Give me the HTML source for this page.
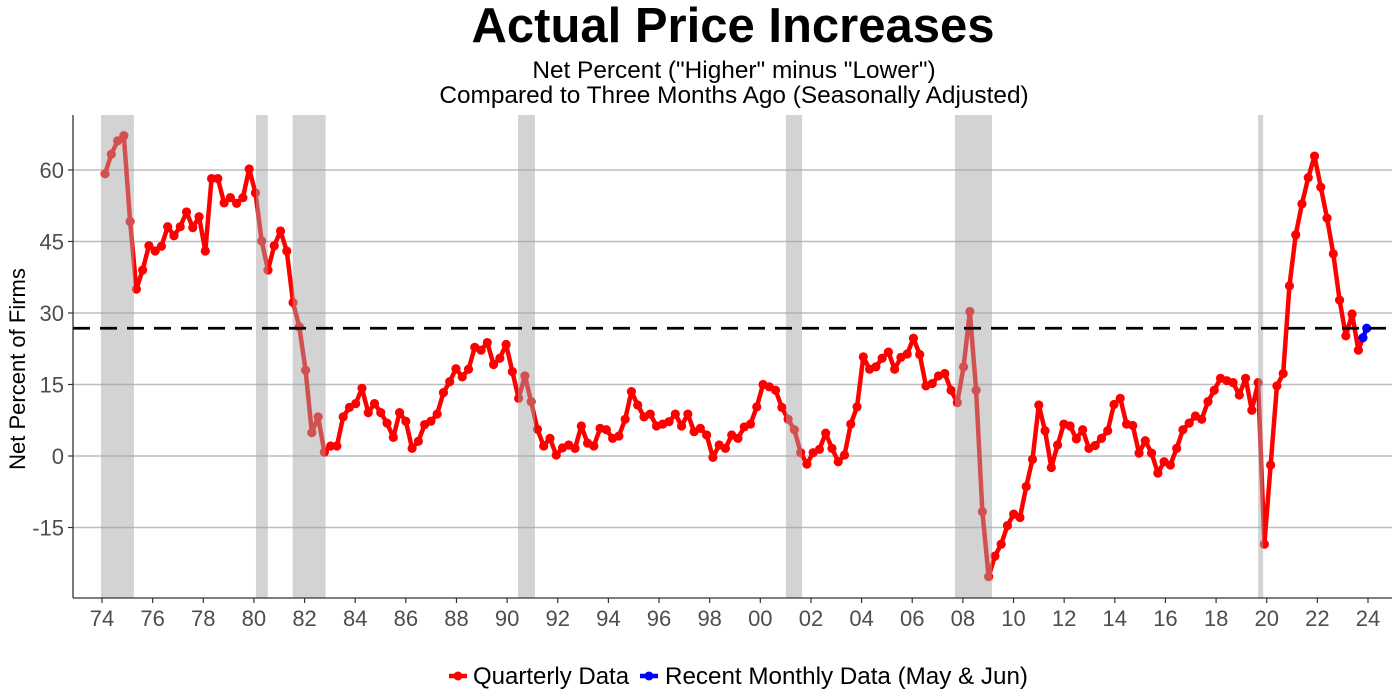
<!DOCTYPE html>
<html><head><meta charset="utf-8"><style>
body{margin:0;background:#fff;}
svg{display:block;font-family:"Liberation Sans",sans-serif;}
</style></head><body>
<svg id="chart" width="1400" height="700">
<text x="733" y="42" text-anchor="middle" font-size="49" font-weight="bold" fill="#000">Actual Price Increases</text>
<text x="734" y="78" text-anchor="middle" font-size="24.4" fill="#000">Net Percent ("Higher" minus "Lower")</text>
<text x="734" y="103" text-anchor="middle" font-size="24.4" fill="#000">Compared to Three Months Ago (Seasonally Adjusted)</text>
<text transform="translate(25,369) rotate(-90)" text-anchor="middle" font-size="22" fill="#000">Net Percent of Firms</text>
<g id="grid"></g><g id="marks"></g><g id="bands"></g><g id="axes"></g>
<g>
<g><line x1="449" y1="676" x2="467" y2="676" stroke="#f00" stroke-width="4.5"/><circle cx="458" cy="676" r="4.5" fill="#f00"/><text x="473" y="684" font-size="24" fill="#000">Quarterly Data</text></g>
<g><line x1="640" y1="676" x2="658" y2="676" stroke="#00f" stroke-width="4.5"/><circle cx="649" cy="676" r="4.5" fill="#00f"/><text x="665" y="684" font-size="24.2" fill="#000">Recent Monthly Data (May &amp; Jun)</text></g>
</g>
</svg>
<script>
const quarterly = [59.2,63.3,66.1,67.2,49.2,35,39,44.1,43,44,48.1,46.2,48.1,51.2,47.9,50.2,43,58.2,58.2,53.1,54.2,53,54.2,60.2,55.2,45.1,39,44.1,47.2,43,32.2,27.1,18,4.9,8.2,0.8,2.1,2.1,8.2,10.2,11,14.2,9.1,11,9.1,6.9,3.9,9.1,7.3,1.6,3.1,6.6,7.3,8.8,
13.3,15.6,18.3,16.6,18.2,22.8,22.2,23.8,19.2,20.5,23.4,17.7,12.1,16.8,11.4,5.6,2.1,3.7,0.2,1.7,2.3,1.6,6.3,2.7,2.1,5.8,5.5,3.7,4.2,7.7,13.5,10.7,8.2,8.8,6.3,6.7,7.2,8.8,6.3,8.8,5.1,5.8,4.4,-0.3,2.3,1.6,4.4,3.7,6.1,6.7,10.3,15,14.5,13.8,10.2,7.7,5.5,0.7,-1.7,0.7,1.4,4.8,1.6,-1.2,
0.2,6.7,10.3,20.8,18.2,18.7,20.5,21.8,18.2,20.7,21.4,24.7,21.3,14.7,15.2,16.8,17.3,13.8,11.2,18.7,30.3,13.8,-11.7,-25.3,-21,-18.5,-14.6,-12.2,-12.9,-6.4,-0.7,10.7,5.3,-2.4,2.3,6.7,6.3,3.6,5.5,1.6,2.2,3.7,5.3,10.8,12.1,6.7,6.4,0.6,3.2,0.6,-3.6,-1.2,-1.9,1.6,5.5,6.9,8.4,7.7,11.4,13.8,16.3,15.8,15.4,
12.8,16.3,9.6,15.4,-18.5,-1.9,14.7,17.3,35.7,46.4,52.9,58.4,62.9,56.4,49.9,42.4,32.7,25.2,29.8,22.2];
const quarterStart = 1974.12;
const quarterStep = 0.2475;
const monthlyDates = [2023.8, 2023.95];
const monthly = [24.8, 26.8];
const meanLine = 26.8;
const recStart = [1973.96, 1980.08, 1981.53, 1990.43, 2001.01, 2007.69, 2019.66];
const recEnd = [1975.26, 1980.55, 1982.83, 1991.1, 2001.65, 2009.15, 2019.86];
const yTicks = [-15, 0, 15, 30, 45, 60];
const xTicks = [1974,1976,1978,1980,1982,1984,1986,1988,1990,1992,1994,1996,1998,2000,2002,2004,2006,2008,2010,2012,2014,2016,2018,2020,2022,2024];

const NS = "http://www.w3.org/2000/svg";
const L = 73, R = 1392, T = 115, B = 598;
const xs = t => 102 + (t - 1974) * 25.32;
const ys = v => 456 - v * 4.767;
function mk(tag, attrs, parent) { const e = document.createElementNS(NS, tag); for (const k in attrs) e.setAttribute(k, attrs[k]); parent.appendChild(e); return e; }
const grid = document.getElementById('grid'), marks = document.getElementById('marks'), bands = document.getElementById('bands'), axes = document.getElementById('axes');

yTicks.forEach(v => {
  const g = mk('line', {x1: L, x2: R, y1: ys(v), y2: ys(v), stroke: '#bdbdbd', 'stroke-width': 1.5}, grid);
  
  
  const t = mk('text', {x: 64, y: ys(v) + 8, 'text-anchor': 'end', 'font-size': 22, fill: '#4d4d4d'}, axes);
  t.textContent = v;
  
  
  mk('line', {x1: L - 5, x2: L, y1: ys(v), y2: ys(v), stroke: '#333', 'stroke-width': 1.2}, axes);
});
xTicks.forEach(yr => {
  const x = xs(yr);
  mk('line', {x1: x, x2: x, y1: B, y2: B + 5, stroke: '#333', 'stroke-width': 1.2}, axes);
  const t = mk('text', {x: x, y: B + 28, 'text-anchor': 'middle', 'font-size': 22, fill: '#4d4d4d'}, axes);
  t.textContent = String(yr % 100).padStart(2, '0');
  
  
});
const ax1 = mk('line', {x1: L, x2: L, y1: T, y2: B, stroke: '#333', 'stroke-width': 1.3}, axes);


const ax2 = mk('line', {x1: L, x2: R, y1: B, y2: B, stroke: '#333', 'stroke-width': 1.3}, axes);



const pts = quarterly.map((v, i) => [xs(quarterStart + i * quarterStep), ys(v)]);
const qLine = mk('polyline', {points: pts.map(p => p.join(',')).join(' '), fill: 'none', stroke: '#f00', 'stroke-width': 4.5, 'stroke-linejoin': 'round'}, marks);


const last = pts[pts.length - 1];
const mpts = monthly.map((v, i) => [xs(monthlyDates[i]), ys(v)]);
mk('line', {x1: last[0], y1: last[1], x2: mpts[0][0], y2: mpts[0][1], stroke: '#f00', 'stroke-width': 4.5}, marks);
pts.forEach(p => {
  const c = mk('circle', {cx: p[0], cy: p[1], r: 4.6, fill: '#f00'}, marks);
  
  
});
const mLine = mk('polyline', {points: mpts.map(p => p.join(',')).join(' '), fill: 'none', stroke: '#00f', 'stroke-width': 4.5}, marks);


mpts.forEach(p => {
  const c = mk('circle', {cx: p[0], cy: p[1], r: 4.6, fill: '#00f'}, marks);
  
  
});
recStart.forEach((s, i) => {
  const r = mk('rect', {x: xs(s), y: T, width: xs(recEnd[i]) - xs(s), height: B - T, fill: 'rgb(165,165,165)', 'fill-opacity': 0.486}, bands);
  
  
});
const dl = mk('line', {x1: L, x2: R, y1: ys(meanLine), y2: ys(meanLine), stroke: '#000', 'stroke-width': 2.8, 'stroke-dasharray': '17,10'}, bands);


</script>
</body></html>
